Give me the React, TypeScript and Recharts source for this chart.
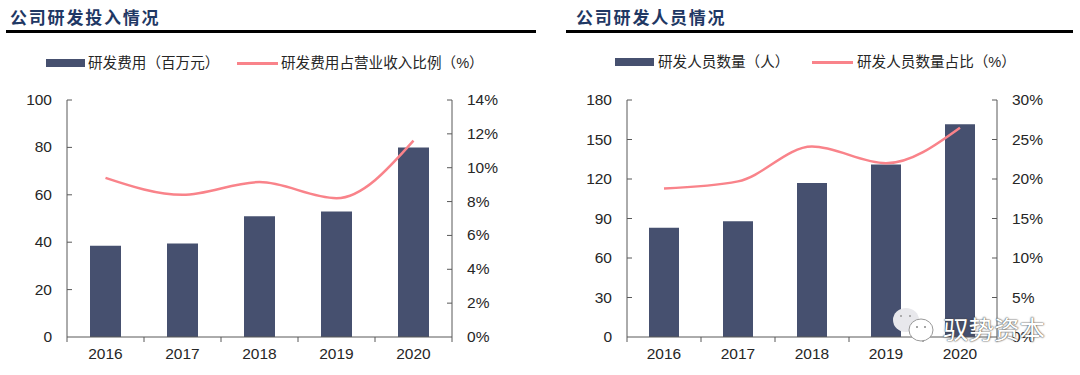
import { Bar, ComposedChart, Line, XAxis, YAxis } from "recharts";

const years = ["2016", "2017", "2018", "2019", "2020"];

const costValues = [38.5, 39.5, 51, 53, 80];
const costRatio = [9.4, 8.4, 9.15, 8.2, 11.6];
const staffValues = [83, 88, 117, 131, 161.5];
const staffRatio = [18.8, 19.7, 24.1, 22, 26.5];

const costTicks = [0, 20, 40, 60, 80, 100];
const costRatioTicks = [0, 2, 4, 6, 8, 10, 12, 14];
const staffTicks = [0, 30, 60, 90, 120, 150, 180];
const staffRatioTicks = [0, 5, 10, 15, 20, 25, 30];

const FONT = '"Liberation Sans", Arial, "Noto Sans CJK SC", sans-serif';
const BAR_COLOR = "#46506f";
const LINE_COLOR = "#f9838a";
const AXIS_COLOR = "#595959";
const TEXT_COLOR = "#262626";
const TICK_FONT_SIZE = 15.5;

const toRows = (bars: number[], ratio: number[]) =>
  years.map((year, i) => ({ year, bar: bars[i], ratio: ratio[i] }));

// x axis ticks sit between the categories, so they are drawn with the label
function YearTick({ x, y, payload, band }: any) {
  const last = payload.value === years[years.length - 1];
  return (
    <g>
      <line x1={x - band / 2} x2={x - band / 2} y1={y} y2={y + 5} stroke={AXIS_COLOR} />
      {last && <line x1={x + band / 2} x2={x + band / 2} y1={y} y2={y + 5} stroke={AXIS_COLOR} />}
      <text x={x} y={y + 22} textAnchor="middle" fontSize={TICK_FONT_SIZE} fill={TEXT_COLOR} fontFamily={FONT}>
        {payload.value}
      </text>
    </g>
  );
}

// y axis tick marks point into the plot, labels stay outside
function ValueTick({ x, y, payload, side, suffix }: any) {
  const dir = side === "left" ? 1 : -1;
  return (
    <g>
      {payload.value !== 0 && <line x1={x} x2={x + dir * 5} y1={y} y2={y} stroke={AXIS_COLOR} />}
      <text
        x={x - dir * 15}
        y={y + 5}
        textAnchor={side === "left" ? "end" : "start"}
        fontSize={TICK_FONT_SIZE}
        fill={TEXT_COLOR}
        fontFamily={FONT}
      >
        {payload.value}
        {suffix}
      </text>
    </g>
  );
}

function Panel({ left, width, plotWidth, rows, ticks, ratioTicks, leftMax, rightMax, barSize }: any) {
  const band = plotWidth / years.length;
  const axisStyle = { stroke: AXIS_COLOR };
  return (
    <div style={{ position: "absolute", left, top: 90 }}>
      <ComposedChart
        width={width}
        height={280}
        data={rows}
        margin={{ top: 10, right: width - plotWidth - 100, bottom: 0, left: 0 }}
      >
        <XAxis
          dataKey="year"
          interval={0}
          height={33}
          tickSize={0}
          tickMargin={0}
          tickLine={false}
          axisLine={axisStyle}
          tick={(props: any) => <YearTick {...props} band={band} />}
        />
        <YAxis
          yAxisId="left"
          width={50}
          domain={[0, leftMax]}
          ticks={ticks}
          interval={0}
          axisLine={axisStyle}
          tickLine={false}
          tickSize={0}
          tickMargin={0}
          tick={(props: any) => <ValueTick {...props} side="left" suffix="" />}
        />
        <YAxis
          yAxisId="right"
          orientation="right"
          width={50}
          domain={[0, rightMax]}
          ticks={ratioTicks}
          interval={0}
          axisLine={axisStyle}
          tickLine={false}
          tickSize={0}
          tickMargin={0}
          tick={(props: any) => <ValueTick {...props} side="right" suffix="%" />}
        />
        <Bar yAxisId="left" dataKey="bar" fill={BAR_COLOR} barSize={barSize} isAnimationActive={false} />
        <Line
          yAxisId="right"
          type="monotone"
          dataKey="ratio"
          stroke={LINE_COLOR}
          strokeWidth={2.5}
          dot={false}
          isAnimationActive={false}
        />
      </ComposedChart>
    </div>
  );
}

function Heading({ text, left, ruleLeft, ruleWidth }: any) {
  return (
    <>
      <div
        style={{
          position: "absolute",
          left,
          top: 6,
          fontFamily: '"Noto Sans CJK SC", sans-serif',
          fontWeight: 700,
          fontSize: 17,
          lineHeight: "22px",
          letterSpacing: 1.8,
          color: "#1f3864",
          whiteSpace: "nowrap",
        }}
      >
        {text}
      </div>
      <div
        style={{
          position: "absolute",
          left: ruleLeft,
          top: 30,
          width: ruleWidth,
          height: 3,
          background: "#000",
        }}
      />
    </>
  );
}

function LegendEntry({ left, midY, width, height, color, label, labelLeft }: any) {
  return (
    <>
      <div style={{ position: "absolute", left, top: midY - height / 2, width, height, background: color }} />
      <div
        style={{
          position: "absolute",
          left: labelLeft,
          top: midY - 10,
          fontFamily: FONT,
          fontSize: 14.6,
          lineHeight: "20px",
          color: TEXT_COLOR,
          whiteSpace: "nowrap",
        }}
      >
        {label}
      </div>
    </>
  );
}

function Watermark() {
  const outline = "0 0 2px #444, 0 0 1px #444";
  return (
    <>
      <svg width={44} height={38} style={{ position: "absolute", left: 892, top: 307 }}>
        <ellipse cx={14} cy={13} rx={13} ry={12} fill="#e8e8ec" />
        <circle cx={9} cy={9} r={1} fill="#999" />
        <circle cx={18} cy={9} r={1} fill="#999" />
        <ellipse cx={29} cy={23} rx={12} ry={11} fill="#fff" stroke="#999" />
        <circle cx={25} cy={20} r={1} fill="#888" />
        <circle cx={33} cy={20} r={1} fill="#888" />
      </svg>
      <div
        style={{
          position: "absolute",
          left: 943,
          top: 313,
          fontFamily: '"Noto Sans CJK SC", sans-serif',
          fontSize: 25.5,
          lineHeight: "30px",
          color: "#fff",
          textShadow: outline,
          whiteSpace: "nowrap",
        }}
      >
        驭势资本
      </div>
    </>
  );
}

export default function App() {
  return (
    <div style={{ position: "absolute", left: 0, top: 0, width: 1080, height: 375, background: "#fff", overflow: "hidden" }}>
      <Heading text="公司研发投入情况" left={10} ruleLeft={6} ruleWidth={530} />
      <Heading text="公司研发人员情况" left={576} ruleLeft={566} ruleWidth={507} />

      <LegendEntry left={46} midY={63} width={39} height={8} color={BAR_COLOR} label="研发费用（百万元）" labelLeft={88} />
      <LegendEntry left={237} midY={63} width={41} height={3} color={LINE_COLOR} label="研发费用占营业收入比例（%）" labelLeft={281} />
      <LegendEntry left={615} midY={62} width={39} height={8} color={BAR_COLOR} label="研发人员数量（人）" labelLeft={658} />
      <LegendEntry left={812} midY={62} width={41} height={3} color={LINE_COLOR} label="研发人员数量占比（%）" labelLeft={857} />

      <Panel
        left={17}
        width={500}
        plotWidth={385}
        rows={toRows(costValues, costRatio)}
        ticks={costTicks}
        ratioTicks={costRatioTicks}
        leftMax={100}
        rightMax={14}
        barSize={31}
      />
      <Panel
        left={577}
        width={480}
        plotWidth={370}
        rows={toRows(staffValues, staffRatio)}
        ticks={staffTicks}
        ratioTicks={staffRatioTicks}
        leftMax={180}
        rightMax={30}
        barSize={30}
      />
      <Watermark />
    </div>
  );
}
